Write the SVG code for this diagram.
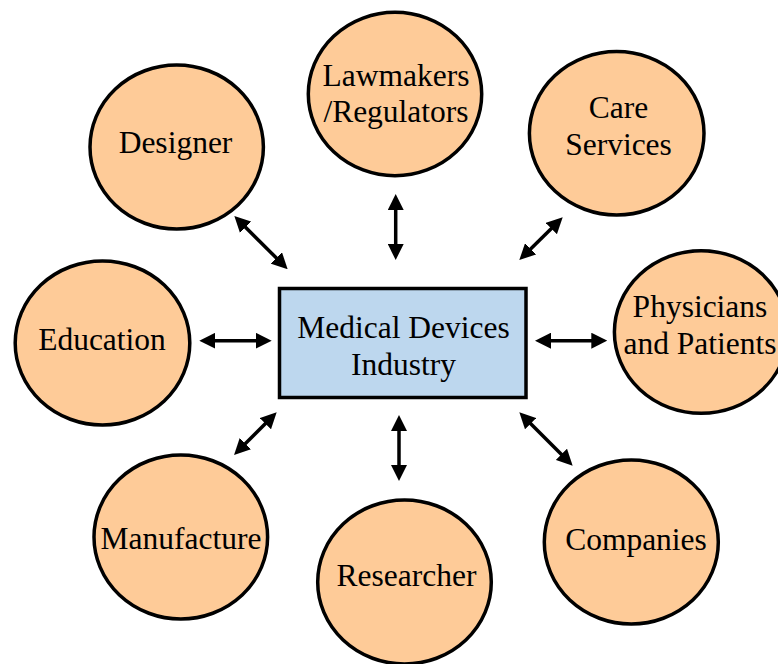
<svg xmlns="http://www.w3.org/2000/svg" width="778" height="664" viewBox="0 0 778 664">
  <style>
    .node ellipse { fill: #FECB98; stroke: #000; stroke-width: 3.5; }
    .hub rect { fill: #BDD7EE; stroke: #000; stroke-width: 3.5; }
    text { font-family: "Liberation Serif", "Times New Roman", "DejaVu Serif", serif; font-size: 31.5px; fill: #000; text-anchor: middle; }
    .link { stroke: #000; stroke-width: 3.5; fill: none; marker-start: url(#head); marker-end: url(#head); }
  </style>
  <defs>
    <marker id="head" markerUnits="userSpaceOnUse" viewBox="0 0 16 16" markerWidth="16" markerHeight="16" refX="8" refY="8" orient="auto-start-reverse">
      <path d="M0,0 L16,8 L0,16 z" fill="#000"/>
    </marker>
  </defs>

  <rect width="778" height="664" fill="#fff"/>

  <!-- central hub -->
  <g id="industry" class="hub">
    <rect x="279.5" y="288.5" width="246.5" height="109"/>
    <text x="403.5" y="337.5">Medical Devices</text>
    <text x="403.5" y="374.5">Industry</text>
  </g>

  <!-- surrounding stakeholders -->
  <g id="designer" class="node">
    <ellipse cx="176.7" cy="147" rx="86.7" ry="82"/>
    <text x="175.5" y="152.5">Designer</text>
  </g>
  <g id="lawmakers" class="node">
    <ellipse cx="395" cy="94" rx="86.7" ry="81.7"/>
    <text x="396" y="86">Lawmakers</text>
    <text x="396" y="121.7">/Regulators</text>
  </g>
  <g id="care-services" class="node">
    <ellipse cx="616.7" cy="133.3" rx="87.3" ry="81.7"/>
    <text x="618.5" y="118.3">Care</text>
    <text x="618.5" y="155">Services</text>
  </g>
  <g id="education" class="node">
    <ellipse cx="102.5" cy="343" rx="87.3" ry="82"/>
    <text x="102" y="350">Education</text>
  </g>
  <g id="physicians" class="node">
    <ellipse cx="701.2" cy="332" rx="86.8" ry="81.3"/>
    <text x="700" y="317.3">Physicians</text>
    <text x="700" y="354.3">and Patients</text>
  </g>
  <g id="manufacture" class="node">
    <ellipse cx="180.8" cy="537" rx="86.8" ry="82"/>
    <text x="181" y="549">Manufacture</text>
  </g>
  <g id="researcher" class="node">
    <ellipse cx="404.5" cy="582" rx="86.8" ry="82"/>
    <text x="406.5" y="585.7">Researcher</text>
  </g>
  <g id="companies" class="node">
    <ellipse cx="631.3" cy="542" rx="87" ry="82"/>
    <text x="636" y="550">Companies</text>
  </g>

  <!-- two-way links between the hub and each stakeholder -->
  <g id="connectors">
    <line class="link" x1="395.7" y1="202" x2="395.7" y2="252"/>
    <line class="link" x1="399" y1="423" x2="399" y2="473"/>
    <line class="link" x1="207.3" y1="340.7" x2="263.7" y2="340.7"/>
    <line class="link" x1="543" y1="340.7" x2="599.3" y2="340.7"/>
    <line class="link" x1="240" y1="221.7" x2="282" y2="263.6"/>
    <line class="link" x1="557" y1="222.9" x2="525" y2="254.4"/>
    <line class="link" x1="271" y1="418" x2="239.7" y2="449.3"/>
    <line class="link" x1="525" y1="418" x2="567" y2="460"/>
  </g>
</svg>
